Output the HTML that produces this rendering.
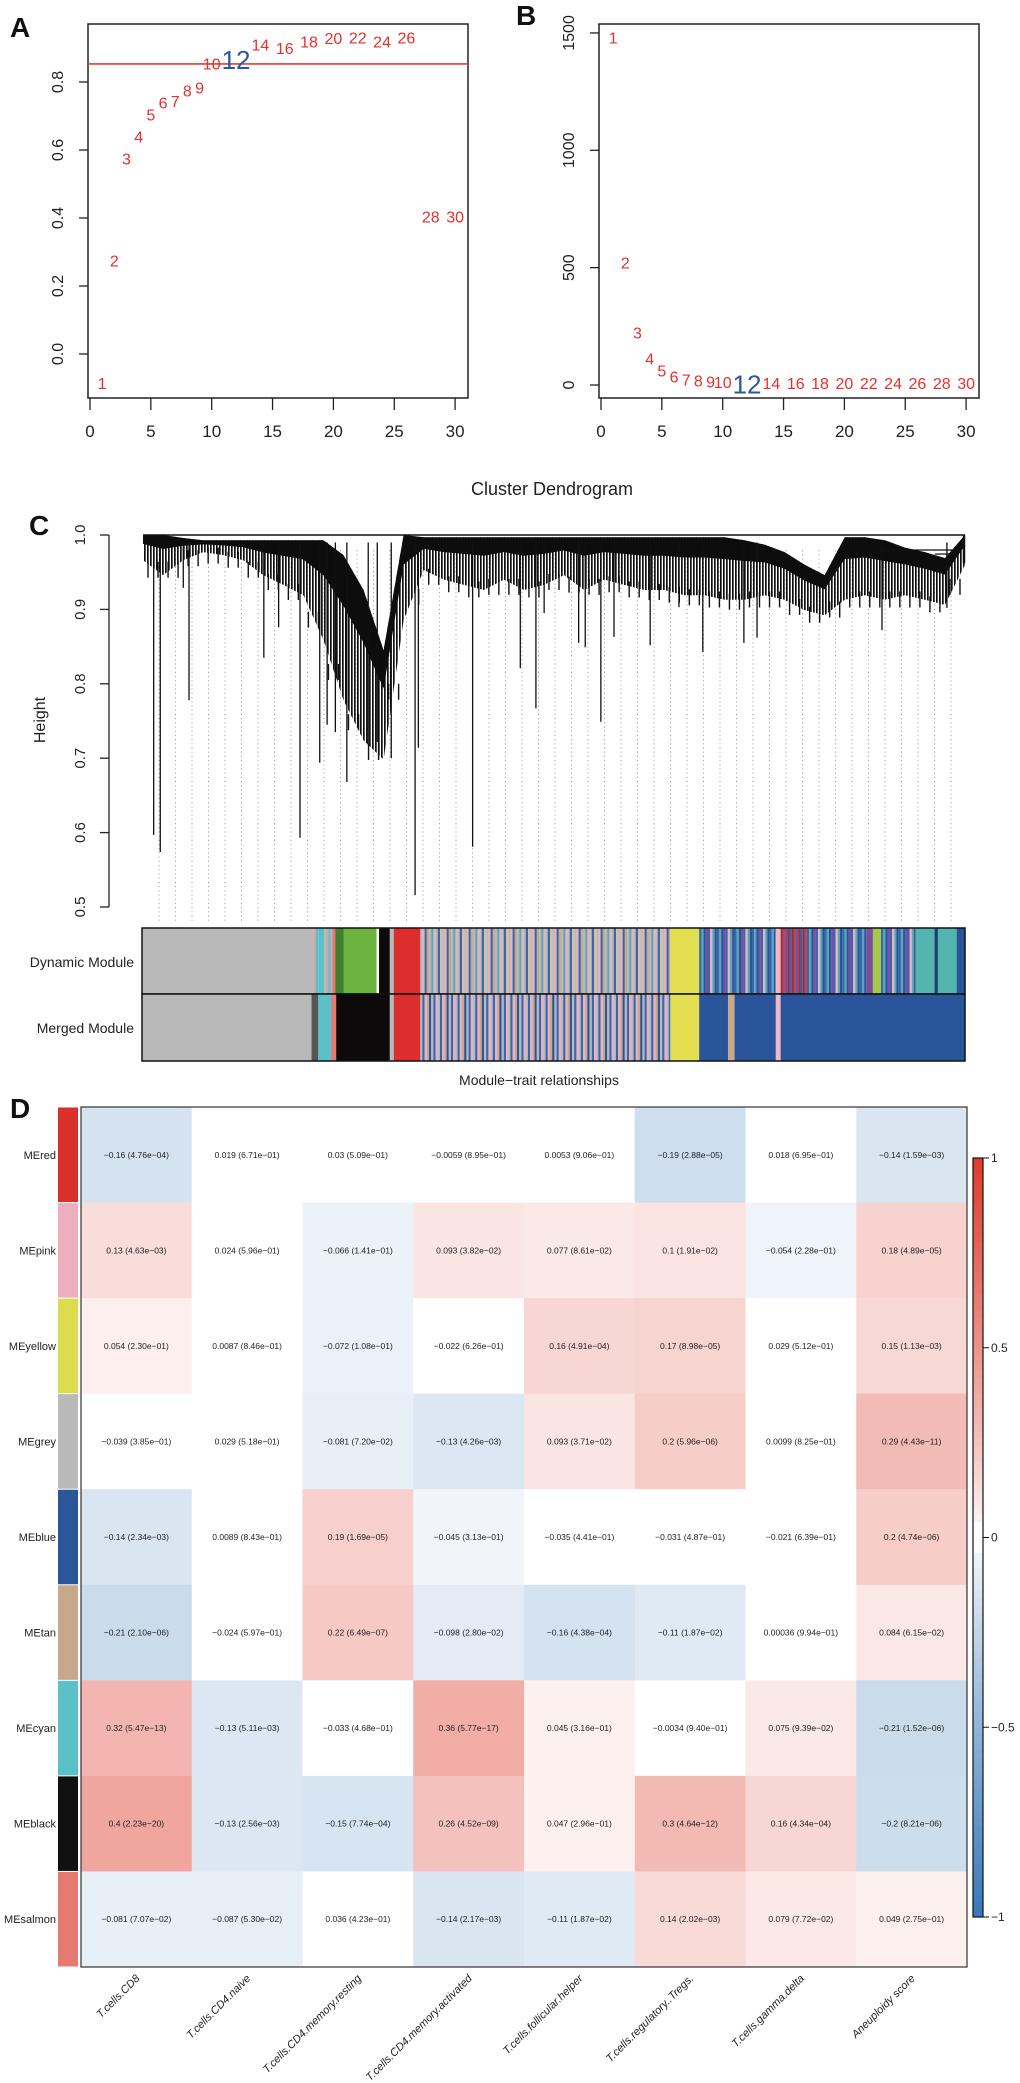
<!DOCTYPE html>
<html><head><meta charset="utf-8"><style>
html,body{margin:0;padding:0;background:#fff;}
svg{display:block;font-family:"Liberation Sans",Arial,sans-serif;}
</style></head><body>
<svg id="fig" width="1020" height="2083" viewBox="0 0 1020 2083" xmlns="http://www.w3.org/2000/svg">
<defs>
<pattern id="streaks" width="3" height="10" patternUnits="userSpaceOnUse">
<rect x="0" y="0" width="1.7" height="10" fill="#111"/>
</pattern>
</defs>
</svg>
<script>
// ---------- DATA ----------
const powers = [1,2,3,4,5,6,7,8,9,10,12,14,16,18,20,22,24,26,28,30];
const sftR2  = [-0.09,0.27,0.57,0.635,0.70,0.735,0.74,0.77,0.78,0.85,0.865,0.906,0.895,0.915,0.925,0.927,0.915,0.927,0.40,0.40];
const meanK  = [1475,515,217,107,55,30,16,12,9,7,3,2,2,2,2,2,2,2,2,2];
const chosenPower = 12;
const r2Cut = 0.853;
const xTicks = [0,5,10,15,20,25,30];
const aYTicks = [0.0,0.2,0.4,0.6,0.8];
const aYLabels = ["0.0","0.2","0.4","0.6","0.8"];
const bYTicks = [0,500,1000,1500];
const dYTicks = [1.0,0.9,0.8,0.7,0.6,0.5];
const dYLabels = ["1.0","0.9","0.8","0.7","0.6","0.5"];
const massTop = [1.0,1.0,0.996,0.993,0.993,0.993,0.993,0.993,0.993,0.993,0.973,0.926,0.845,1.0,0.997,0.997,0.997,0.997,0.997,0.997,0.997,0.997,0.997,0.997,0.997,0.997,0.997,0.997,0.997,0.997,0.993,0.987,0.977,0.960,0.946,0.997,0.997,0.993,0.983,0.977,0.969,1.0];
const massBottom = [0.966,0.946,0.966,0.977,0.973,0.966,0.946,0.933,0.919,0.859,0.778,0.724,0.698,0.886,0.953,0.940,0.933,0.926,0.940,0.926,0.933,0.946,0.926,0.940,0.933,0.926,0.926,0.919,0.919,0.913,0.913,0.919,0.913,0.899,0.892,0.913,0.919,0.913,0.919,0.913,0.906,0.960];
const branchPos = [0.013,0.021,0.049,0.056,0.147,0.165,0.191,0.215,0.224,0.234,0.248,0.274,0.285,0.302,0.331,0.335,0.401,0.459,0.478,0.488,0.530,0.538,0.557,0.573,0.617,0.652,0.681,0.731,0.747,0.899,0.978];
const branchH   = [0.597,0.574,0.929,0.778,0.835,0.876,0.593,0.694,0.745,0.735,0.668,0.718,0.722,0.700,0.516,0.714,0.581,0.821,0.767,0.895,0.855,0.849,0.749,0.863,0.852,0.903,0.843,0.855,0.862,0.872,0.902];
const dynSegs = [[0,206,'#b9b9b9'],[206,214,'S1'],[214,221,'#5bc1c8'],[221,231,'S1'],[231,235,'#e57a70'],[235,245,'#3f7f32'],[245,285,'#6db33f'],[285,288,'#ffffff'],[288,301,'#0c0a0a'],[301,306,'#b9b9b9'],[306,338,'#dd2e2e'],[338,642,'S2'],[642,677,'#e2e051'],[677,770,'S3'],[770,776,'#f2b6c6'],[776,808,'S4'],[808,880,'S3'],[880,888,'#7a4fa0'],[888,898,'#a5c94a'],[898,940,'S3'],[940,963,'#54b5b0'],[963,967,'#1f3f6f'],[967,990,'#54b5b0'],[990,1000,'#2b559b']];
const mrgSegs = [[0,206,'#b9b9b9'],[206,214,'#555555'],[214,230,'#5bc1c8'],[230,236,'#e57a70'],[236,301,'#0c0a0a'],[301,306,'#b9b9b9'],[306,338,'#dd2e2e'],[338,642,'S5'],[642,677,'#e2e051'],[677,712,'#2b559b'],[712,720,'#c9a98a'],[720,770,'#2b559b'],[770,776,'#f2b6c6'],[776,1000,'#2b559b']];
const stripePalettes = {
  S1:['#b9b9b9','#d8a0a0','#5bc1c8','#b9b9b9'],
  S2:['#b9b9b9','#e8b2c0','#3a66b0','#c9a98a','#b9b9b9','#5aa7b5','#e8b2c0','#b9b9b9','#3a66b0','#d7c0a0'],
  S3:['#3a66b0','#5aa7b5','#2b559b','#7a4fa0','#3a66b0','#e8b2c0','#5aa7b5','#2b559b'],
  S4:['#9e3046','#b04a5a','#7a4fa0','#9e3046','#3a66b0'],
  S5:['#b9b9b9','#3a66b0','#e8b2c0','#c9a98a','#2b559b','#b9b9b9','#3a66b0','#e8b2c0']
};
const modules = ['MEred','MEpink','MEyellow','MEgrey','MEblue','MEtan','MEcyan','MEblack','MEsalmon'];
const moduleColors = ['#d9302b','#ebafbe','#dddb4e','#b9b9b9','#2a569a','#c8a88a','#5bc1c8','#111111','#e57a70'];
const traits = ['T.cells.CD8','T.cells.CD4.naive','T.cells.CD4.memory.resting','T.cells.CD4.memory.activated','T.cells.follicular.helper','T.cells.regulatory..Tregs.','T.cells.gamma.delta','Aneuploidy score'];
const corVals = [
 [-0.16,0.019,0.03,-0.0059,0.0053,-0.19,0.018,-0.14],
 [0.13,0.024,-0.066,0.093,0.077,0.1,-0.054,0.18],
 [0.054,0.0087,-0.072,-0.022,0.16,0.17,0.029,0.15],
 [-0.039,0.029,-0.081,-0.13,0.093,0.2,0.0099,0.29],
 [-0.14,0.0089,0.19,-0.045,-0.035,-0.031,-0.021,0.2],
 [-0.21,-0.024,0.22,-0.098,-0.16,-0.11,0.00036,0.084],
 [0.32,-0.13,-0.033,0.36,0.045,-0.0034,0.075,-0.21],
 [0.4,-0.13,-0.15,0.26,0.047,0.3,0.16,-0.2],
 [-0.081,-0.087,0.036,-0.14,-0.11,0.14,0.079,0.049]];
const pVals = [
 ['4.76e-04','6.71e-01','5.09e-01','8.95e-01','9.06e-01','2.88e-05','6.95e-01','1.59e-03'],
 ['4.63e-03','5.96e-01','1.41e-01','3.82e-02','8.61e-02','1.91e-02','2.28e-01','4.89e-05'],
 ['2.30e-01','8.46e-01','1.08e-01','6.26e-01','4.91e-04','8.98e-05','5.12e-01','1.13e-03'],
 ['3.85e-01','5.18e-01','7.20e-02','4.26e-03','3.71e-02','5.96e-06','8.25e-01','4.43e-11'],
 ['2.34e-03','8.43e-01','1.69e-05','3.13e-01','4.41e-01','4.87e-01','6.39e-01','4.74e-06'],
 ['2.10e-06','5.97e-01','6.49e-07','2.80e-02','4.38e-04','1.87e-02','9.94e-01','6.15e-02'],
 ['5.47e-13','5.11e-03','4.68e-01','5.77e-17','3.16e-01','9.40e-01','9.39e-02','1.52e-06'],
 ['2.23e-20','2.56e-03','7.74e-04','4.52e-09','2.96e-01','4.64e-12','4.34e-04','8.21e-06'],
 ['7.07e-02','5.30e-02','4.23e-01','2.17e-03','1.87e-02','2.02e-03','7.72e-02','2.75e-01']];
const cbTicks = [1,0.5,0,-0.5,-1];
const cbLabels = ['1','0.5','0','-0.5','-1'];

// ---------- HELPERS ----------
const NS='http://www.w3.org/2000/svg';
const svg=document.getElementById('fig');
function mk(tag, attrs, parent){const e=document.createElementNS(NS,tag);for(const k in attrs)e.setAttribute(k,attrs[k]);(parent||svg).appendChild(e);return e;}
function txt(s, attrs, parent){const e=mk('text',attrs,parent);e.textContent=s;return e;}
function grp(){return mk('g',{});}

const xA=v=>90+v*12.17, yA=v=>354-v*340;
const xB=v=>601+v*12.17, yB=v=>385-v*0.2347;
function panelBox(x0,x1,name){
  const b=mk('rect',{x:x0,y:24,width:x1-x0,height:374,fill:'none',stroke:'#222','stroke-width':1.5});
  
  
}
function xAxis(fx,name){
  const g=grp();
  
  
  xTicks.forEach(t=>{
    mk('line',{x1:fx(t),x2:fx(t),y1:398,y2:410,stroke:'#222','stroke-width':1.3},g);
    const l=txt(String(t),{x:fx(t),y:437,'font-size':17,'text-anchor':'middle',fill:'#222'},g);
    
    
  });
}
panelBox(88,468,'panel-a-plot-box');
xAxis(xA,'panel-a-x-axis');
{
  const g=grp();
  
  
  aYTicks.forEach((t,i)=>{
    mk('line',{x1:88,x2:79,y1:yA(t),y2:yA(t),stroke:'#222','stroke-width':1.3},g);
    const l=txt(aYLabels[i],{x:0,y:0,'font-size':16,'text-anchor':'middle',fill:'#222',transform:`translate(63,${yA(t)}) rotate(-90)`},g);
    
    
  });
}
{
  const cut=mk('line',{x1:88,x2:468,y1:yA(r2Cut),y2:yA(r2Cut),stroke:'#e8383a','stroke-width':1.6});
  
  
  powers.forEach((p,i)=>{
    const big=p===chosenPower;
    const t=txt(String(p),{x:xA(p),y:yA(sftR2[i]),'font-size':big?26:16,'text-anchor':'middle','dominant-baseline':'central',fill:big?'#2c57a0':'#e5302e'});
    
    
  });
}
panelBox(599,979,'panel-b-plot-box');
xAxis(xB,'panel-b-x-axis');
{
  const g=grp();
  
  
  bYTicks.forEach(t=>{
    mk('line',{x1:599,x2:590,y1:yB(t),y2:yB(t),stroke:'#222','stroke-width':1.3},g);
    const l=txt(String(t),{x:0,y:0,'font-size':16,'text-anchor':'middle',fill:'#222',transform:`translate(574,${yB(t)}) rotate(-90)`},g);
    
    
  });
  powers.forEach((p,i)=>{
    const big=p===chosenPower;
    const t=txt(String(p),{x:xB(p),y:yB(meanK[i]),'font-size':big?26:16,'text-anchor':'middle','dominant-baseline':'central',fill:big?'#2c57a0':'#e5302e'});
    
    
  });
}
[['A',10,37],['B',516,25],['C',29,535],['D',10,1118]].forEach(([s,x,y])=>{
  const t=txt(s,{x:x,y:y,'font-size':28,'font-weight':'bold',fill:'#111'});
  
  
});

// ---------- PANEL C ----------
const yD=h=>535+(1-h)*744, xL=f=>143+f*822;
{
  const t=txt('Cluster Dendrogram',{x:552,y:495,'font-size':18,'text-anchor':'middle',fill:'#222'});
  
  
  const g=grp();
  
  
  mk('line',{x1:109,x2:109,y1:yD(1),y2:yD(0.5),stroke:'#222','stroke-width':1.3},g);
  dYTicks.forEach((t,i)=>{
    mk('line',{x1:109,x2:100,y1:yD(t),y2:yD(t),stroke:'#222','stroke-width':1.3},g);
    const l=txt(dYLabels[i],{x:0,y:0,'font-size':15,'text-anchor':'middle',fill:'#222',transform:`translate(85,${yD(t)}) rotate(-90)`},g);
    
    
  });
  const h=txt('Height',{x:0,y:0,'font-size':16,'text-anchor':'middle',fill:'#222',transform:'translate(45,720) rotate(-90)'});
  
  

  const dg=grp();
  
  
  for(let x=159;x<=966;x+=16.5){
    mk('line',{x1:x,x2:x,y1:550,y2:923,stroke:'#8a8a8a','stroke-width':0.8,'stroke-dasharray':'1.2,3'},dg);
  }
  const n=massTop.length;
  let pts=[], solid=[];
  for(let i=0;i<n;i++){pts.push(xL(i/(n-1))+','+yD(massTop[i]));solid.push(xL(i/(n-1))+','+yD(massTop[i]));}
  for(let i=n-1;i>=0;i--){
    pts.push(xL(i/(n-1))+','+yD(massBottom[i]));
    const mid=yD(massTop[i])+(yD(massBottom[i])-yD(massTop[i]))*0.35;
    solid.push(xL(i/(n-1))+','+mid);
  }
  const m=mk('polygon',{points:pts.join(' '),fill:'url(#streaks)'},dg);
  
  
  const ms=mk('polygon',{points:solid.join(' '),fill:'#0d0d0d'},dg);
  
  
  for(let i=0;i<2*(n-1);i++){
    const f=(i+0.5)/(2*(n-1)), k=Math.min(n-2,Math.floor(f*(n-1)));
    const hb=(massBottom[k]+massBottom[k+1])/2;
    mk('line',{x1:xL(f),x2:xL(f),y1:yD(hb)-6,y2:yD(hb)+10,stroke:'#111','stroke-width':1.4},dg);
  }
  mk('line',{x1:xL(0),x2:xL(1),y1:yD(1),y2:yD(1),stroke:'#111','stroke-width':1.5},dg);
  mk('line',{x1:875,x2:958,y1:550,y2:550,stroke:'#111','stroke-width':1.2},dg);
  mk('line',{x1:935,x2:958,y1:554,y2:554,stroke:'#111','stroke-width':1.2},dg);
  mk('line',{x1:964,x2:964,y1:535,y2:563,stroke:'#111','stroke-width':2.5},dg);
  branchPos.forEach((f,i)=>{
    const b=mk('line',{x1:xL(f),x2:xL(f),y1:yD(0.99),y2:yD(branchH[i]),stroke:'#111','stroke-width':1.3},dg);
    
    
  });
}
function drawBar(segs,y,h,name){
  const g=grp();
  
  
  const W=823, X0=142;
  segs.forEach(([s,e,c])=>{
    const x0=X0+s*W/1000, x1=X0+e*W/1000;
    if(c[0]==='S'){
      const pal=stripePalettes[c];let k=0;
      for(let x=x0;x<x1;x+=2.2){mk('rect',{x:x,y:y,width:Math.min(2.3,x1-x),height:h,fill:pal[k%pal.length]},g);k++;}
    } else mk('rect',{x:x0,y:y,width:x1-x0+0.3,height:h,fill:c},g);
  });
  mk('rect',{x:X0,y:y,width:W,height:h,fill:'none',stroke:'#111','stroke-width':1.5},g);
}
drawBar(dynSegs,928,66,'dynamic-module-bar');
drawBar(mrgSegs,994,67,'merged-module-bar');
[['Dynamic Module',967],['Merged Module',1033]].forEach(([s,y])=>{
  const t=txt(s,{x:134,y:y,'font-size':14,'text-anchor':'end',fill:'#222'});
  
  
});
{
  const t=txt('Module\u2212trait relationships',{x:539,y:1085,'font-size':14,'text-anchor':'middle',fill:'#222'});
  
  
}

// ---------- PANEL D ----------
function corColor(v){
  const a=Math.abs(v);
  if(a<0.04) return 'rgb(255,255,255)';
  const t=Math.min(1,Math.pow(a,0.85));
  const end=v>0?[222,60,44]:[55,120,185];
  return `rgb(${Math.round(255+(end[0]-255)*t)},${Math.round(255+(end[1]-255)*t)},${Math.round(255+(end[2]-255)*t)})`;
}
{
  const HX=81,HY=1107,HW=886,HH=860;
  const cw=HW/traits.length, rh=HH/modules.length;
  const g=grp();
  
  
  modules.forEach((m,r)=>{
    const strip=mk('rect',{x:58,y:HY+r*rh+0.5,width:20,height:rh-1,fill:moduleColors[r]},g);
    
    
    const lab=txt(m,{x:56,y:HY+(r+0.5)*rh+4,'font-size':11,'text-anchor':'end',fill:'#222'},g);
    
    
    traits.forEach((tr,c)=>{
      const cell=mk('rect',{x:HX+c*cw,y:HY+r*rh,width:cw+0.5,height:rh+0.5,fill:corColor(corVals[r][c])},g);
      
      
      const ct=txt(String(corVals[r][c]).replace('-','\u2212')+' ('+pVals[r][c].replace('-','\u2212')+')',{x:HX+(c+0.5)*cw,y:HY+(r+0.5)*rh+3,'font-size':8.5,'text-anchor':'middle',fill:'#222'},g);
      
      
    });
  });
  mk('rect',{x:HX,y:HY,width:HW,height:HH,fill:'none',stroke:'#333','stroke-width':1.2},g);
  traits.forEach((tr,c)=>{
    const x=HX+(c+0.5)*cw+4;
    const l=txt(tr,{x:0,y:0,'font-size':11,'font-style':'italic','text-anchor':'end',fill:'#222',transform:`translate(${x},1979) rotate(-45)`},g);
    
    
  });
  const cb=grp();
  
  
  const yC=v=>1537.5-v*379.5;
  for(let v=1;v>-1;v-=0.02){
    mk('rect',{x:973,y:yC(v),width:10,height:yC(v-0.02)-yC(v)+0.4,fill:corColor(v-0.01)},cb);
  }
  mk('rect',{x:973,y:yC(1),width:10,height:yC(-1)-yC(1),fill:'none',stroke:'#111','stroke-width':1.2},cb);
  cbTicks.forEach((t,i)=>{
    mk('line',{x1:983,x2:989,y1:yC(t),y2:yC(t),stroke:'#111','stroke-width':1},cb);
    const l=txt(cbLabels[i].replace('-','\u2212'),{x:991,y:yC(t)+4,'font-size':12,fill:'#222'},cb);
    
    
  });
}
</script>
</body></html>
